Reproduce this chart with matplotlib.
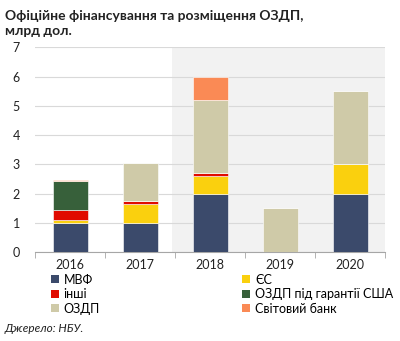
import matplotlib
matplotlib.use("Agg")
import matplotlib.pyplot as plt
from matplotlib.patches import Patch
import numpy as np

years = ["2016", "2017", "2018", "2019", "2020"]
imf = [1.0, 1.0, 2.0, 0.0, 2.0]
eu = [0.11, 0.63, 0.6, 0.0, 1.0]
other = [0.34, 0.1, 0.1, 0.0, 0.0]
us_guar = [0.98, 0.0, 0.0, 0.0, 0.0]
eurobonds = [0.0, 1.3, 2.5, 1.5, 2.5]
world_bank = [0.05, 0.0, 0.8, 0.0, 0.0]

series = [
    ("МВФ", imf, "#3b4a6b"),
    ("ЄС", eu, "#fad00e"),
    ("інші", other, "#e00b00"),
    ("ОЗДП під гарантії США", us_guar, "#37603a"),
    ("ОЗДП", eurobonds, "#cfcaa8"),
    ("Світовий банк", world_bank, "#fa8a55"),
]

plt.rcParams["font.family"] = ["Lato", "DejaVu Sans"]

fig = plt.figure(figsize=(4.0, 3.41), dpi=100)
ax = fig.add_axes([0.0875, 0.261, 0.875, 0.6])

x = np.arange(len(years))
ax.axvspan(1.46, 4.5, color="#f2f2f2", zorder=0, lw=0)

bottom = np.zeros(len(years))
for name, vals, col in series:
    vals = np.array(vals)
    ax.bar(x, vals, 0.5, bottom=bottom, color=col, edgecolor="white",
           linewidth=0.4, zorder=3)
    bottom += vals

ax.set_xlim(-0.5, 4.5)
ax.set_ylim(0, 7)
ax.set_yticks(range(0, 8))
ax.yaxis.grid(True, color="#d9d9d9", linewidth=0.8, zorder=1)
ax.set_axisbelow(True)
for s in ["left", "right", "top"]:
    ax.spines[s].set_visible(False)
ax.spines["bottom"].set_color("#a6a6a6")
ax.tick_params(axis="y", length=0, labelsize=9, pad=11, colors="#222222")
ax.set_xticks(x)
ax.set_xticklabels(years)
ax.tick_params(axis="x", which="major", length=0, labelsize=9, pad=5, colors="#222222")
ax.set_xticks(np.arange(-0.5, 5.0, 1.0), minor=True)
ax.tick_params(axis="x", which="minor", length=4, color="#a6a6a6")

fig.text(0.012, 0.972, "Офіційне фінансування та розміщення ОЗДП,\nмлрд дол.",
         fontsize=10, fontweight="bold", va="top", ha="left", color="#222222",
         linespacing=1.35)

order = [0, 2, 4, 1, 3, 5]
handles = [Patch(facecolor=series[i][2], edgecolor="none") for i in order]
labels = [series[i][0] for i in order]
fig.legend(handles, labels, ncol=2, loc="upper left", bbox_to_anchor=(0.128, 0.197),
           frameon=False, fontsize=9, handlelength=0.6, handleheight=0.6,
           handletextpad=0.4, columnspacing=11.4, labelspacing=0.2,
           borderaxespad=0, borderpad=0)

fig.text(0.012, 0.038, "Джерело: НБУ.", fontsize=8.5, style="italic",
         ha="left", va="center", color="#222222")

fig.savefig("out.png", dpi=100)
